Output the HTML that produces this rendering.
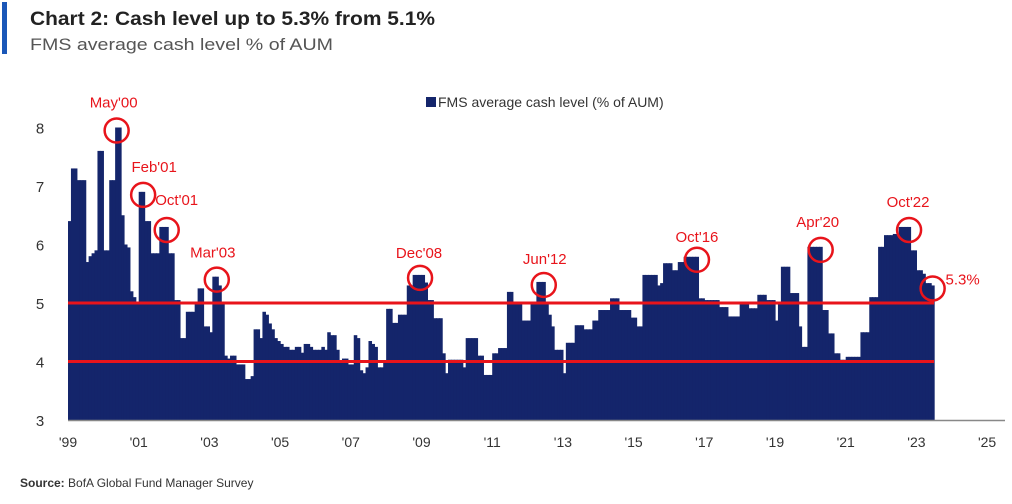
<!DOCTYPE html>
<html><head><meta charset="utf-8"><style>
body{margin:0;background:#fff;width:1012px;height:499px;overflow:hidden;font-family:"Liberation Sans",sans-serif}
</style></head><body>
<svg width="1012" height="499" viewBox="0 0 1012 499" xmlns="http://www.w3.org/2000/svg">
<rect x="2" y="2" width="5" height="52" fill="#1a57b8"/>
<text x="30" y="25" font-size="19" font-weight="bold" fill="#222" textLength="405" lengthAdjust="spacingAndGlyphs">Chart 2: Cash level up to 5.3% from 5.1%</text>
<text x="30" y="50" font-size="17" fill="#555" textLength="303" lengthAdjust="spacingAndGlyphs">FMS average cash level % of AUM</text>
<rect x="426" y="97" width="10" height="10" fill="#14256b"/>
<text x="438" y="107" font-size="14" fill="#333">FMS average cash level (% of AUM)</text>
<g id="bars"></g>
<g id="axes"></g>
<g id="ann"></g>
<text x="20" y="487" font-size="12" fill="#333"><tspan font-weight="bold">Source:</tspan>  BofA Global Fund Manager Survey</text>
</svg>
<script>
const NS="http://www.w3.org/2000/svg";
const startYear=1999;
const values=[
6.4,7.3,7.3,7.1,7.1,7.1,5.7,5.8,5.85,5.9,7.6,7.6,
5.9,5.9,7.1,7.1,8.0,8.0,6.5,6.0,5.95,5.2,5.1,5.0,
6.9,6.9,6.4,6.4,5.85,5.85,5.85,6.3,6.3,6.3,5.85,5.85,
5.05,5.05,4.4,4.4,4.85,4.85,4.85,5.0,5.25,5.25,4.6,4.6,
4.5,5.45,5.45,5.3,5.0,4.1,4.05,4.1,4.1,3.95,3.95,3.95,
3.7,3.7,3.75,4.55,4.55,4.4,4.85,4.8,4.65,4.55,4.4,4.35,
4.3,4.25,4.25,4.2,4.2,4.25,4.25,4.15,4.3,4.3,4.25,4.2,
4.2,4.2,4.25,4.2,4.5,4.45,4.45,4.2,4.0,4.05,4.05,3.95,
3.95,4.45,4.4,3.85,3.8,3.9,4.35,4.3,4.25,3.9,3.9,4.0,
4.9,4.9,4.66,4.66,4.8,4.8,4.8,5.3,5.3,5.48,5.48,5.48,
5.48,5.35,5.05,5.05,4.74,4.74,4.74,4.14,3.8,4.03,4.03,4.03,
4.03,4.03,3.9,4.4,4.4,4.4,4.4,4.1,4.1,3.77,3.77,3.77,
4.14,4.14,4.23,4.23,4.23,5.19,5.19,5.02,5.02,5.02,4.7,4.7,
4.7,5.0,5.0,5.36,5.36,5.36,5.0,4.8,4.6,4.2,4.2,4.2,
3.8,4.32,4.32,4.32,4.62,4.62,4.62,4.55,4.55,4.55,4.7,4.7,
4.88,4.88,4.88,4.88,5.08,5.08,5.08,4.88,4.88,4.88,4.88,4.75,
4.75,4.6,4.6,5.48,5.48,5.48,5.48,5.48,5.3,5.34,5.68,5.68,
5.68,5.56,5.56,5.7,5.7,5.79,5.79,5.79,5.79,5.79,5.08,5.08,
5.05,5.05,5.05,5.05,5.05,4.93,4.93,4.93,4.77,4.77,4.77,4.77,
5.02,5.02,5.02,4.91,4.91,4.91,5.14,5.14,5.14,5.05,5.05,5.05,
4.7,5.0,5.62,5.62,5.62,5.17,5.17,5.17,4.6,4.25,4.25,5.96,
5.96,5.96,5.96,5.96,4.88,4.88,4.48,4.48,4.14,4.14,4.03,4.03,
4.08,4.08,4.08,4.08,4.08,4.5,4.5,4.5,5.1,5.1,5.1,5.96,
5.96,6.16,6.16,6.16,6.18,6.18,6.3,6.3,6.3,6.3,5.9,5.9,
5.56,5.56,5.5,5.34,5.34,5.3];
const yTicks=[3,4,5,6,7,8];
const xTickYears=[1999,2001,2003,2005,2007,2009,2011,2013,2015,2017,2019,2021,2023,2025];
const xTickLabels=["'99","'01","'03","'05","'07","'09","'11","'13","'15","'17","'19","'21","'23","'25"];
const refLines=[5,4];
const annLabels=["May'00","Feb'01","Oct'01","Mar'03","Dec'08","Jun'12","Oct'16","Apr'20","Oct'22","5.3%"];
const annMonths=[16,25,33,50,119,161,213,255,285,293];
const annValues=[8.0,6.9,6.3,5.45,5.48,5.36,5.79,5.96,6.3,5.3];

const X0=68,YW=35.35,Y3=420,UY=58.5;
const x=m=>X0+m*YW/12;
const y=v=>Y3-(v-3)*UY;
const bars=document.getElementById('bars'),axes=document.getElementById('axes'),ann=document.getElementById('ann');
function mk(tag,at,parent){const e=document.createElementNS(NS,tag);for(const k in at)e.setAttribute(k,at[k]);parent.appendChild(e);return e;}
values.forEach((v,i)=>{
 const r=mk('rect',{x:x(i),y:y(v),width:YW/12+0.6,height:Y3-y(v),fill:'#14256b'},bars);
 
 
});
refLines.forEach(v=>{
 const l=mk('line',{x1:x(0),x2:x(values.length),y1:y(v),y2:y(v),stroke:'#e8141b','stroke-width':3},axes);
 
 
});
const ax=mk('line',{x1:x(0),x2:1005,y1:Y3+0.5,y2:Y3+0.5,stroke:'#888','stroke-width':1.5},axes);


yTicks.forEach(t=>{
 const e=mk('text',{x:40,y:y(t)+6,'font-size':15,fill:'#333','text-anchor':'middle'},axes);e.textContent=t;
 
 
});
xTickYears.forEach((yr,i)=>{
 const e=mk('text',{x:x((yr-startYear)*12),y:447,'font-size':14,fill:'#333','text-anchor':'middle'},axes);e.textContent=xTickLabels[i];
 
 
});
const lblOff=[[-3,-28],[11,-28],[10,-30],[-4,-27],[-1,-25],[1,-26],[0,-23],[-3,-28],[-1,-28],[30,-9]];
annLabels.forEach((s,i)=>{
 const cx=x(annMonths[i])+1.5,cy=y(annValues[i])+3;
 const c=mk('circle',{cx:cx,cy:cy,r:12,fill:'none',stroke:'#e8141b','stroke-width':2.5},ann);
 
 
 const t=mk('text',{x:cx+lblOff[i][0],y:cy+lblOff[i][1]+5,'font-size':15,fill:'#e8141b','text-anchor':'middle'},ann);t.textContent=s;
 
 
});
</script>
</body></html>
